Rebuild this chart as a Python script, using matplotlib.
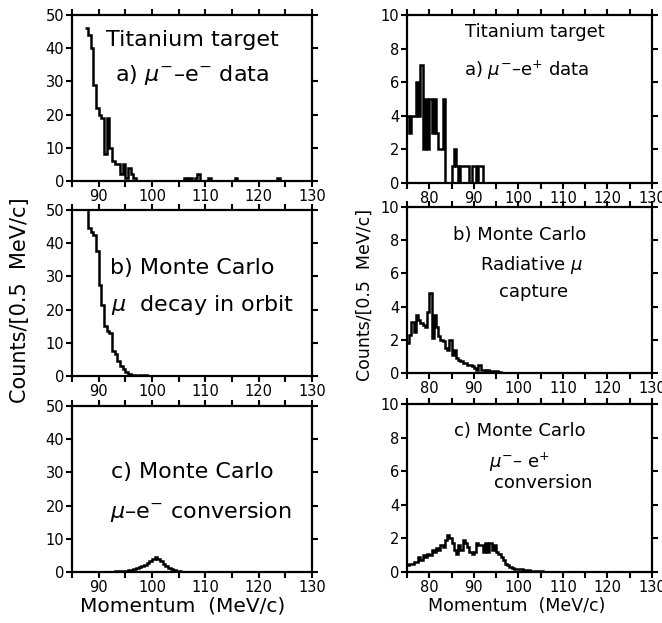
import numpy as np
import matplotlib
matplotlib.use("Agg")
import matplotlib.pyplot as plt
from matplotlib.ticker import MultipleLocator, NullFormatter

# --- data: counts per 0.5 MeV/c bin, first bin edge given separately ---
BIN = 0.5

ti_emin_start = 87.5
ti_emin_counts = [46, 44, 40, 29, 22, 20, 19, 8, 19, 10, 6, 5, 5, 2, 5, 1, 4, 2, 1, 0,
                  0, 0, 0, 0, 0, 0, 0, 0, 0, 0, 0, 0, 0, 0, 0, 0, 0,
                  1, 0, 1, 0, 1, 2, 0, 0, 0, 1, 0,
                  0, 0, 0, 0, 0, 0, 0, 0, 1, 0,
                  0, 0, 0, 0, 0, 0, 0, 0, 0, 0, 0, 0, 0, 0, 1, 0]

dio_start = 87.5
dio_counts = [55, 44.5, 43.5, 42.5, 37.5, 27.5, 21.5, 15, 13.5, 13, 7.5, 6.5, 4.5, 3,
              2, 1.2, 0.5, 0.3, 0.2, 0.1, 0.3, 0.4, 0.2, 0.1, 0]

conv_em_start = 90.0
conv_em_counts = [0.05, 0.05, 0.1, 0.1, 0.15, 0.15, 0.2, 0.25, 0.3, 0.35, 0.45, 0.6,
                  0.75, 0.95, 1.2, 1.45, 1.75, 2.2, 2.7, 3.3, 3.9, 4.4, 3.9, 3.2,
                  2.5, 1.9, 1.3, 0.9, 0.6, 0.4, 0.25, 0.15, 0.1, 0.05, 0.03, 0]

ti_eplus_start = 75.0
ti_eplus_counts = [4, 3, 4, 4, 6, 4, 7, 2, 5, 2, 5, 3, 5, 3, 2, 2, 5, 0, 0, 0,
                   1, 2, 1, 0, 1, 1, 1, 1, 0, 1, 1, 0, 1, 1, 0]

rmc_start = 75.0
rmc_counts = [1.8, 2.3, 3.1, 2.5, 3.5, 3.2, 3.0, 2.9, 2.8, 3.7, 4.8, 2.1, 3.5, 2.8,
              2.2, 2.0, 1.9, 1.5, 1.4, 2.0, 1.1, 1.4, 0.9, 0.8, 0.7, 0.6, 0.6, 0.5,
              0.5, 0.4, 0.3, 0.2, 0.5, 0.2, 0.2, 0.1, 0.2, 0.1, 0.1, 0.1, 0.1, 0.05, 0]

conv_ep_start = 75.0
conv_ep_counts = [0.4, 0.5, 0.5, 0.6, 0.6, 0.9, 0.7, 1.0, 0.9, 1.1, 1.0, 1.3, 1.2,
                  1.4, 1.3, 1.6, 1.5, 1.9, 2.2, 2.0, 1.7, 1.3, 1.1, 1.6, 1.3, 1.9,
                  1.7, 1.5, 1.2, 1.1, 1.2, 1.7, 1.6, 1.6, 1.2, 1.7, 1.2, 1.7, 1.3,
                  1.6, 1.2, 1.1, 0.9, 0.7, 0.5, 0.4, 0.3, 0.25, 0.2, 0.2, 0.15,
                  0.15, 0.1, 0.1, 0.1, 0.08, 0.08, 0.05, 0.05, 0.03, 0.03, 0.02, 0]

W, H = 662, 623


def box(x0, y0, x1, y1):
    return [x0 / W, 1 - y1 / H, (x1 - x0) / W, (y1 - y0) / H]


def edges(start, counts):
    return start + BIN * np.arange(len(counts) + 1)


def style(ax, xlim, ylim, ystep, labsize):
    ax.set_xlim(*xlim)
    ax.set_ylim(*ylim)
    ax.xaxis.set_major_locator(MultipleLocator(10))
    ax.xaxis.set_minor_locator(MultipleLocator(5))
    ax.xaxis.set_minor_formatter(NullFormatter())
    ax.yaxis.set_major_locator(MultipleLocator(ystep))
    ax.tick_params(which="both", direction="out", top=True, right=True,
                   length=4, width=1.5, labelsize=labsize, pad=1.5)
    for s in ax.spines.values():
        s.set_linewidth(1.6)


def hist(ax, start, counts):
    ax.stairs(counts, edges(start, counts), color="black", linewidth=1.8,
              baseline=None)


fig = plt.figure(figsize=(W / 100, H / 100), dpi=100)
fig.patch.set_facecolor("white")

# left column
axl = [fig.add_axes(box(72, 15, 312, 181)),
       fig.add_axes(box(72, 210, 312, 376)),
       fig.add_axes(box(72, 406, 312, 572))]
hist(axl[0], ti_emin_start, ti_emin_counts)
hist(axl[1], dio_start, dio_counts)
hist(axl[2], conv_em_start, conv_em_counts)
for ax in axl:
    style(ax, (85, 130), (0, 50), 10, 10.5)

fs = 16
axl[0].text(0.50, 0.85, "Titanium target", transform=axl[0].transAxes,
            ha="center", va="center", fontsize=fs)
axl[0].text(0.50, 0.64, r"a) $\mu^{-}$–e$^{-}$ data", transform=axl[0].transAxes,
            ha="center", va="center", fontsize=fs)
axl[1].text(0.50, 0.65, "b) Monte Carlo", transform=axl[1].transAxes,
            ha="center", va="center", fontsize=fs)
axl[1].text(0.545, 0.43, r"$\mu$  decay in orbit", transform=axl[1].transAxes,
            ha="center", va="center", fontsize=fs)
axl[2].text(0.50, 0.60, "c) Monte Carlo", transform=axl[2].transAxes,
            ha="center", va="center", fontsize=fs)
axl[2].text(0.535, 0.36, r"$\mu$–e$^{-}$ conversion", transform=axl[2].transAxes,
            ha="center", va="center", fontsize=fs)

# right column
axr = [fig.add_axes(box(407, 15, 652, 183)),
       fig.add_axes(box(407, 207, 652, 373)),
       fig.add_axes(box(407, 404, 652, 572))]
hist(axr[0], ti_eplus_start, ti_eplus_counts)
hist(axr[1], rmc_start, rmc_counts)
hist(axr[2], conv_ep_start, conv_ep_counts)
for ax in axr:
    style(ax, (75, 130), (0, 10), 2, 10.5)

fr = 13
axr[0].text(0.52, 0.90, "Titanium target", transform=axr[0].transAxes,
            ha="center", va="center", fontsize=fr)
axr[0].text(0.49, 0.67, r"a) $\mu^{-}$–e$^{+}$ data", transform=axr[0].transAxes,
            ha="center", va="center", fontsize=fr)
axr[1].text(0.46, 0.83, "b) Monte Carlo", transform=axr[1].transAxes,
            ha="center", va="center", fontsize=fr)
axr[1].text(0.51, 0.65, r"Radiative $\mu$", transform=axr[1].transAxes,
            ha="center", va="center", fontsize=fr)
axr[1].text(0.515, 0.49, "capture", transform=axr[1].transAxes,
            ha="center", va="center", fontsize=fr)
axr[2].text(0.46, 0.84, "c) Monte Carlo", transform=axr[2].transAxes,
            ha="center", va="center", fontsize=fr)
axr[2].text(0.46, 0.655, r"$\mu^{-}$– e$^{+}$", transform=axr[2].transAxes,
            ha="center", va="center", fontsize=fr)
axr[2].text(0.555, 0.53, "conversion", transform=axr[2].transAxes,
            ha="center", va="center", fontsize=fr)

# axis titles
fig.text(20 / W, 1 - 300 / H, "Counts/[0.5  MeV/c]", rotation=90,
         ha="center", va="center", fontsize=15)
fig.text(365 / W, 1 - 295 / H, "Counts/[0.5  MeV/c]", rotation=90,
         ha="center", va="center", fontsize=12.5)
fig.text(183 / W, 1 - 606 / H, "Momentum  (MeV/c)", ha="center", va="center",
         fontsize=14.5)
fig.text(517 / W, 1 - 606 / H, "Momentum  (MeV/c)", ha="center", va="center",
         fontsize=12.5)

fig.savefig("out.png", dpi=100, facecolor="white")
